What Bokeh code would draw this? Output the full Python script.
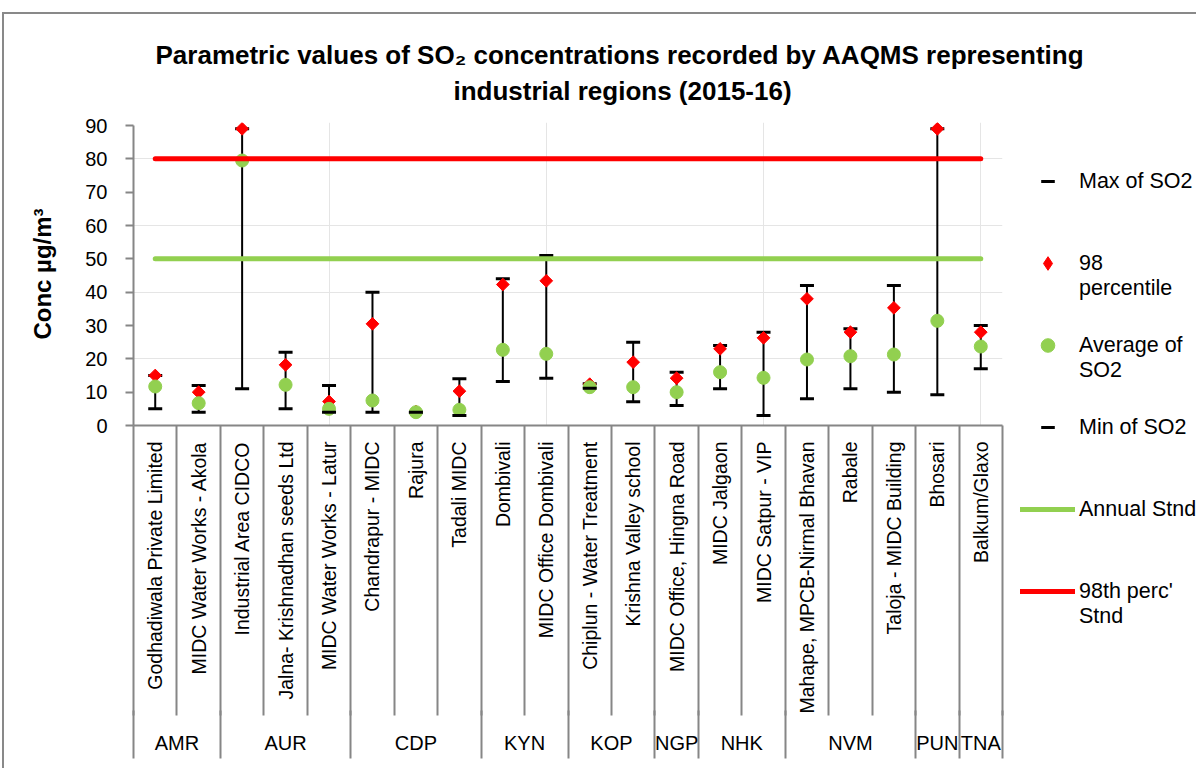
import math
from bokeh.plotting import figure
from bokeh.models import (Range1d, LinearAxis, FixedTicker, Legend, LegendItem,
                          Title, AllLabels)
from bokeh.embed import file_html
from bokeh.resources import INLINE

# ---------------- data ----------------
stations = [
    "Godhadiwala Private Limited", "MIDC Water Works - Akola", "Industrial Area CIDCO",
    "Jalna- Krishnadhan seeds Ltd", "MIDC Water Works - Latur", "Chandrapur - MIDC",
    "Rajura", "Tadali MIDC", "Dombivali", "MIDC Office Dombivali",
    "Chiplun - Water Treatment", "Krishna Valley school", "MIDC Office, Hingna Road",
    "MIDC Jalgaon", "MIDC Satpur - VIP", "Mahape, MPCB-Nirmal Bhavan", "Rabale",
    "Taloja - MIDC Building", "Bhosari", "Balkum/Glaxo",
]
groups = ["AMR", "AUR", "CDP", "KYN", "KOP", "NGP", "NHK", "NVM", "PUN", "TNA"]
group_sizes = [2, 3, 3, 2, 2, 1, 2, 3, 1, 1]

max_so2 = [15, 12, 89, 22, 12, 40, 4, 14, 44, 51, 12.5, 25, 16, 24, 28, 42, 29, 42, 89, 30]
p98_so2 = [15, 10, 89, 18.2, 7.2, 30.5, 4.2, 10.3, 42.3, 43.4, 12.4, 19, 14.2, 23, 26.3, 38, 28, 35.3, 89, 28]
avg_so2 = [11.7, 6.7, 79.5, 12.2, 5, 7.5, 4, 4.7, 22.7, 21.5, 11.5, 11.5, 10, 16, 14.3, 19.8, 20.8, 21.3, 31.4, 23.7]
min_so2 = [5, 4, 11, 5, 4, 4, 4, 3, 13.2, 14.2, 11.2, 7.1, 6, 11, 3, 8, 11, 10, 9.2, 17]

annual_stnd = 50
perc98_stnd = 80

y_ticks = [0, 10, 20, 30, 40, 50, 60, 70, 80, 90]

title_line1 = "Parametric values of SO\u2082 concentrations recorded by AAQMS representing"
title_line2 = "industrial regions (2015-16)"
y_label = "Conc \u00b5g/m\u00b3"

# ---------------- derived positions ----------------
n = len(stations)
positions = list(range(1, n + 1))
boundaries = [i + 0.5 for i in range(n + 1)]
group_bounds = [0.5]
for s in group_sizes:
    group_bounds.append(group_bounds[-1] + s)
group_centers = [(a + b) / 2 for a, b in zip(group_bounds[:-1], group_bounds[1:])]

GRAY = "#868686"
RED = "#FF0000"
GREEN = "#92D050"
FONT = "Liberation Sans"

W, H = 1194, 756
p = figure(width=W, height=H, x_range=Range1d(0.5, 20.5), y_range=Range1d(0, 90.9),
           output_backend="svg", toolbar_location=None,
           x_axis_location=None, y_axis_location=None,
           min_border_left=129, min_border_right=196, min_border_top=108,
           min_border_bottom=345, outline_line_color=None,
           background_fill_color="white", border_fill_color="white",
           margin=(12, 0, 0, 2),
           styles={"border-top": "2px solid #898989", "border-left": "2px solid #898989"})

# y axis
yax = LinearAxis(ticker=FixedTicker(ticks=y_ticks, minor_ticks=[]), axis_label=y_label,
                 bounds=(0, 90))
yax.axis_line_color = GRAY
yax.axis_line_width = 2
yax.major_tick_line_color = GRAY
yax.major_tick_line_width = 2
yax.major_tick_in = 0
yax.major_tick_out = 8
yax.minor_tick_line_color = None
yax.major_label_text_font = FONT
yax.major_label_text_font_size = "20px"
yax.major_label_text_color = "black"
yax.major_label_standoff = 18
yax.axis_label_text_font = FONT
yax.axis_label_text_font_size = "24px"
yax.axis_label_text_font_style = "bold"
yax.axis_label_text_color = "black"
yax.axis_label_standoff = 26
p.add_layout(yax, "left")

# x axis: station labels with separators (separators drawn as outward "in" ticks)
xax = LinearAxis(ticker=FixedTicker(ticks=positions, minor_ticks=boundaries),
                 major_label_overrides={pos: name for pos, name in zip(positions, stations)},
                 major_label_policy=AllLabels())
xax.major_label_orientation = math.pi / 2
xax.major_tick_in = 0
xax.major_tick_out = 0
xax.minor_tick_in = -290
xax.minor_tick_out = 0
xax.minor_tick_line_color = GRAY
xax.minor_tick_line_width = 2
xax.axis_line_color = GRAY
xax.axis_line_width = 2
xax.major_label_text_font = FONT
xax.major_label_text_font_size = "19.5px"
xax.major_label_text_color = "black"
xax.major_label_standoff = 16
p.add_layout(xax, "below")

# x axis: region groups
gax = LinearAxis(ticker=FixedTicker(ticks=group_centers, minor_ticks=group_bounds),
                 major_label_overrides={c: g for c, g in zip(group_centers, groups)},
                 major_label_policy=AllLabels())
gax.axis_line_color = None
gax.major_tick_in = 0
gax.major_tick_out = 0
gax.minor_tick_in = 6
gax.minor_tick_out = 42
gax.minor_tick_line_color = GRAY
gax.minor_tick_line_width = 2
gax.major_label_text_font = FONT
gax.major_label_text_font_size = "20px"
gax.major_label_text_color = "black"
gax.major_label_standoff = -27
p.add_layout(gax, "below")

# glyphs
p.segment(x0=positions, y0=min_so2, x1=positions, y1=max_so2, line_color="black", line_width=2)
p.scatter(positions, max_so2, marker="dash", size=14, line_color="black", line_width=3)
p.scatter(positions, p98_so2, marker="square", angle=math.pi / 4, size=9,
          fill_color=RED, line_color=RED)
p.scatter(positions, avg_so2, marker="circle", size=13, fill_color=GREEN, line_color=GREEN)
p.scatter(positions, min_so2, marker="dash", size=14, line_color="black", line_width=3)
p.line(positions, [annual_stnd] * n, line_color=GREEN, line_width=5, line_cap="round")
p.line(positions, [perc98_stnd] * n, line_color=RED, line_width=5, line_cap="round")

# title (two centred lines)
t2 = Title(text=title_line2, align="left", offset=320, standoff=33, text_font=FONT,
           text_font_size="26px", text_font_style="bold", text_color="black")
t1 = Title(text=title_line1, align="left", offset=22, standoff=-25, text_font=FONT,
           text_font_size="26px", text_font_style="bold", text_color="black")
p.add_layout(t2, "above")
p.add_layout(t1, "above")

# legend panel: a separate transparent root laid over the chart's empty right margin
lf = figure(width=192, height=700, x_range=Range1d(-2, -1), y_range=Range1d(0, 90.9),
            output_backend="svg", toolbar_location=None,
            x_axis_location=None, y_axis_location=None, min_border=0,
            outline_line_color=None, background_fill_alpha=0, border_fill_alpha=0,
            margin=(-756, 0, 0, 1004))
lf.grid.visible = False
l_max = lf.scatter(positions, max_so2, marker="dash", size=14, line_color="black", line_width=3)
l_p98 = lf.scatter(positions, p98_so2, marker="diamond", size=14, fill_color=RED, line_color=RED)
l_avg = lf.scatter(positions, avg_so2, marker="circle", size=13, fill_color=GREEN, line_color=GREEN)
l_min = lf.scatter(positions, min_so2, marker="dash", size=14, line_color="black", line_width=3)
l_ann = lf.line(positions, [annual_stnd] * n, line_color=GREEN, line_width=5, line_cap="round")
l_per = lf.line(positions, [perc98_stnd] * n, line_color=RED, line_width=5, line_cap="round")

# a blank first line keeps each glyph level with the first text line
legend = Legend(items=[
    LegendItem(label="Max of SO2", renderers=[l_max]),
    LegendItem(label=" \n98\npercentile", renderers=[l_p98]),
    LegendItem(label=" \nAverage of\nSO2", renderers=[l_avg]),
    LegendItem(label="Min of SO2", renderers=[l_min]),
    LegendItem(label="Annual Stnd", renderers=[l_ann]),
    LegendItem(label=" \n98th perc'\nStnd", renderers=[l_per]),
], location=(16, 82), orientation="vertical", padding=0, margin=0, spacing=4,
    border_line_color=None, background_fill_alpha=0, glyph_width=55, glyph_height=34,
    label_height=78, label_standoff=4, label_text_font=FONT,
    label_text_font_size="21.5px", label_text_color="black")
lf.add_layout(legend)

open("out.html", "w").write(file_html([p, lf], INLINE))
